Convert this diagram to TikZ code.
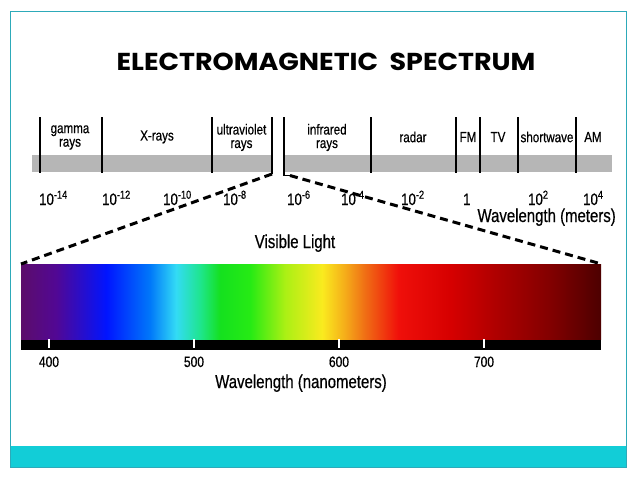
\documentclass[tikz,border=0pt]{standalone}
\usepackage{fontspec}
\setmainfont{Liberation Sans}
\newfontfamily\cond[FakeStretch=0.8,FakeBold=0.5]{Liberation Sans}
\newfontfamily\titlefont[FakeStretch=1.1]{Poppins}
\definecolor{framec}{RGB}{45,170,185}
\definecolor{bandc}{RGB}{18,205,215}
\definecolor{grayband}{RGB}{182,182,182}
\pgfdeclarehorizontalshading{visiblelight}{100bp}{%
rgb(0bp)=(0.36,0.05,0.42);
rgb(25bp)=(0.36,0.05,0.42);
rgb(28bp)=(0.32,0.03,0.58);
rgb(32.35bp)=(0.0,0.08,1.0);
rgb(36.1bp)=(0.0,0.47,0.98);
rgb(38.35bp)=(0.2,0.86,0.96);
rgb(40.45bp)=(0.12,0.9,0.55);
rgb(42.15bp)=(0.08,0.88,0.12);
rgb(44.75bp)=(0.15,0.92,0.08);
rgb(47.75bp)=(0.67,0.94,0.08);
rgb(50.95bp)=(0.98,0.92,0.12);
rgb(52.95bp)=(0.96,0.67,0.1);
rgb(54.65bp)=(0.94,0.43,0.08);
rgb(57.5bp)=(0.94,0.06,0.04);
rgb(62bp)=(0.84,0,0);
rgb(66.3bp)=(0.67,0,0);
rgb(70.6bp)=(0.51,0,0);
rgb(75bp)=(0.3,0,0);
rgb(100bp)=(0.3,0,0)}
\begin{document}
\begin{tikzpicture}[x=1pt,y=-1pt,
  divider/.style={line width=1.8pt,black},
  bandlabel/.style={font=\cond\fontsize{14.5}{13.5}\selectfont,align=center,inner sep=0pt},
  explabel/.style={font=\cond\fontsize{16.5}{18}\selectfont,anchor=base west,inner sep=0pt},
  nmlabel/.style={font=\cond\fontsize{15}{16}\selectfont,anchor=base,inner sep=0pt},
  biglabel/.style={font=\cond\fontsize{18.7}{20}\selectfont,inner sep=0pt},
  dashline/.style={line width=3pt,dash pattern=on 8pt off 5pt,black},
  tick/.style={white,line width=1.3pt}]
\useasboundingbox (0,0) rectangle (638,479);
\fill[white] (0,0) rectangle (638,479);
\fill[bandc] (10,446) rectangle (626,467);
\draw[framec,line width=1pt] (10,11) rectangle (626,467);

\node[font=\titlefont\bfseries\fontsize{24.5}{28}\selectfont,inner sep=0pt] (title) at (326,62) {ELECTROMAGNETIC\ \ SPECTRUM};

% upper spectrum bar
\fill[grayband] (32,155) rectangle (272,172);
\fill[grayband] (284,155) rectangle (612,172);
\foreach \x in {40,102,212,371,456,480,518,576}
  \draw[divider] (\x,117) -- (\x,173);
\coordinate (uvEnd) at (272,174);
\coordinate (irHook) at (290,175.5);
\draw[divider] (272,117) -- (uvEnd);
\draw[divider] (284,117) |- (irHook);

\node[bandlabel] (gamma) at (70,137.5) {gamma\\rays};
\node[bandlabel] (xrays) at (157,137) {X-rays};
\node[bandlabel] (uv) at (241.5,137.5) {ultraviolet\\rays};
\node[bandlabel] (ir) at (327,137.5) {infrared\\rays};
\node[bandlabel] (radar) at (413,137) {radar};
\node[bandlabel] (fm) at (468,137) {FM};
\node[bandlabel] (tv) at (498,137) {TV};
\node[bandlabel] (sw) at (547,137) {shortwave};
\node[bandlabel] (am) at (593,137) {AM};

\node[explabel] (e1) at (39,205) {10\textsuperscript{-14}};
\node[explabel] (e2) at (102,205) {10\textsuperscript{-12}};
\node[explabel] (e3) at (163,205) {10\textsuperscript{-10}};
\node[explabel] (e4) at (223,205) {10\textsuperscript{-8}};
\node[explabel] (e5) at (287,205) {10\textsuperscript{-6}};
\node[explabel] (e6) at (341,205) {10\textsuperscript{-4}};
\node[explabel] (e7) at (401,205) {10\textsuperscript{-2}};
\node[explabel] (e8) at (463,205) {1};
\node[explabel] (e9) at (528,205) {10\textsuperscript{2}};
\node[explabel] (e10) at (583,205) {10\textsuperscript{4}};
\node[biglabel,anchor=base east] (wlm) at (616,222) {Wavelength (meters)};

% visible light
\node[biglabel,anchor=base] (vislabel) at (295,248) {Visible Light};
\node[shading=visiblelight,minimum width=580pt,minimum height=75pt,inner sep=0pt,anchor=north west] (vis) at (21,264) {};
\node[fill=black,minimum width=580pt,minimum height=10pt,inner sep=0pt,anchor=north west] (scalebar) at (vis.south west) {};
\foreach \x in {49,194,339,484}
  \draw[tick] (\x,339) -- (\x,347.5);

\draw[dashline] (uvEnd) -- (vis.north west);
\draw[dashline] (irHook) -- (vis.north east);

\node[nmlabel] (n400) at (49,367) {400};
\node[nmlabel] (n500) at (194,367) {500};
\node[nmlabel] (n600) at (339,367) {600};
\node[nmlabel] (n700) at (484,367) {700};
\node[biglabel,anchor=base] (wlnm) at (301,388) {Wavelength (nanometers)};
\end{tikzpicture}
\end{document}
